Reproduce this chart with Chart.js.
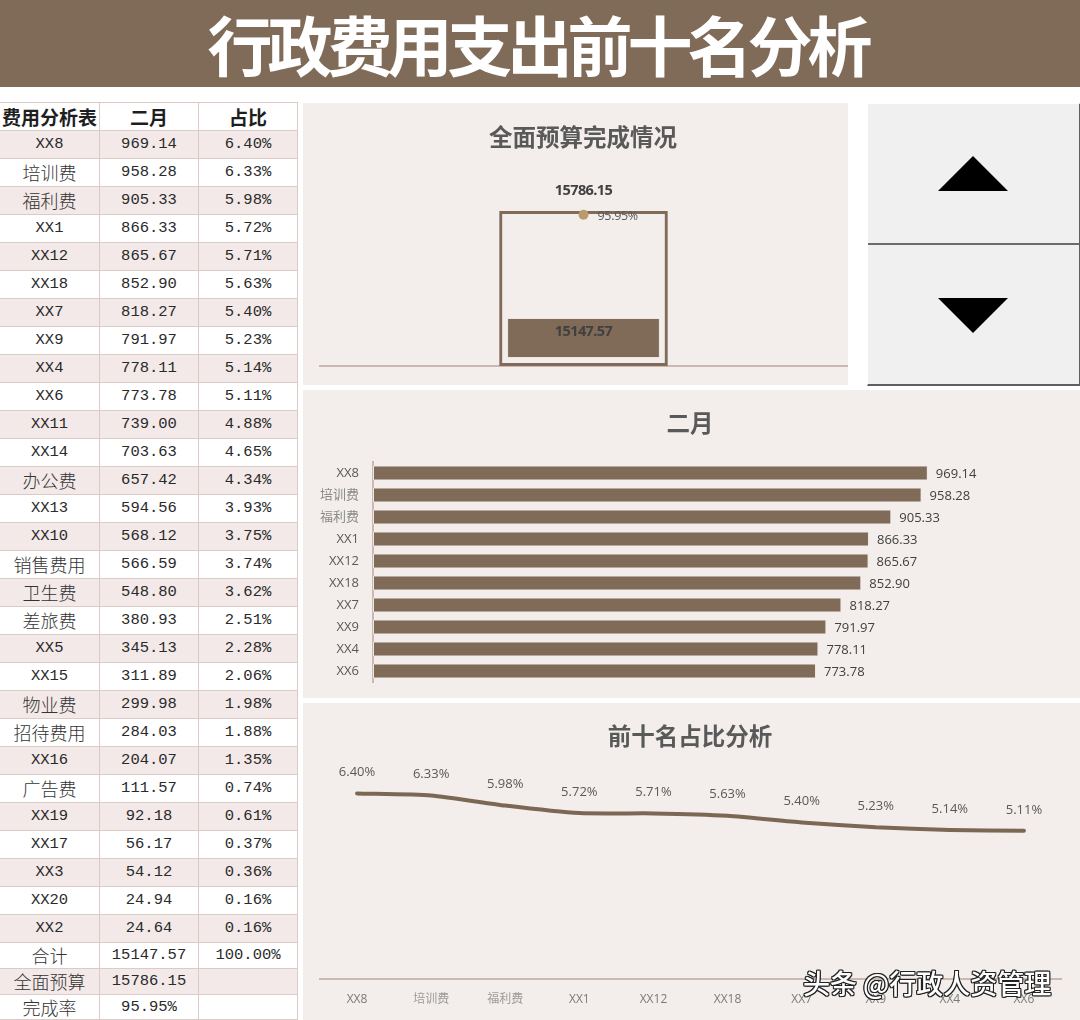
<!DOCTYPE html>
<html><head><meta charset="utf-8">
<script src="https://cdn.jsdelivr.net/npm/chart.js@4.4.0/dist/chart.umd.min.js"></script>
<style>
html,body{margin:0;padding:0;background:#fff;width:1080px;height:1020px;overflow:hidden;position:relative;font-family:"Noto Sans CJK SC",sans-serif;}
#titlebar{position:absolute;left:0;top:0;width:1080px;height:87px;background:#806b59;color:#fff;font-size:65px;font-weight:700;text-align:center;line-height:86px;letter-spacing:-5px;text-indent:-5px;}
.panel{position:absolute;background:#f3eeec;}
.ptitle{position:absolute;font-size:23.5px;font-weight:700;color:#595959;transform:translate(-50%,-50%);white-space:nowrap;line-height:1;}
canvas{position:absolute;left:0;top:0;}
.cell{position:absolute;box-sizing:border-box;border-right:1px solid #dccac7;border-bottom:1px solid #dccac7;text-align:center;color:#2a2a2a;white-space:nowrap;overflow:hidden;}
.cjk{font-family:"Noto Sans CJK SC",sans-serif;font-size:18px;font-weight:300;color:#333;}
.num{font-family:"Liberation Mono",monospace;font-size:15.5px;}
.hdr{font-weight:700;font-size:19px;color:#1e1e1e;}
#btns{position:absolute;left:867px;top:103px;width:211px;height:280px;background:#f0f0f0;border-right:2px solid #5f5f5f;border-bottom:2px solid #5f5f5f;border-top:1px solid #fff;border-left:1px solid #fff;box-sizing:content-box;}
#divider{position:absolute;left:0;top:139px;width:211px;height:2px;background:#6b6b6b;}
.tri{position:absolute;width:0;height:0;border-left:35px solid transparent;border-right:35px solid transparent;}
#wm{position:absolute;left:803px;top:963px;font-size:27px;color:#fff;white-space:nowrap;font-family:"Noto Sans CJK SC",sans-serif;font-weight:500;
 text-shadow:1px 1px 0 #222,-1px -1px 0 #222,1px -1px 0 #222,-1px 1px 0 #222,0 1px 0 #222,0 -1px 0 #222,1px 0 0 #222,-1px 0 0 #222;}
</style></head>
<body>
<div id="titlebar">行政费用支出前十名分析</div>
<div id="table"></div>

<div class="panel" style="left:303px;top:103px;width:545px;height:282px;">
  <canvas id="c1" width="545" height="282"></canvas>
  <div class="ptitle" style="left:280px;top:34px;">全面预算完成情况</div>
</div>

<div id="btns">
  <div class="tri" style="left:70px;top:52px;border-bottom:35px solid #000;"></div>
  <div id="divider"></div>
  <div class="tri" style="left:70px;top:194px;border-top:35px solid #000;"></div>
</div>

<div class="panel" style="left:303px;top:390px;width:777px;height:308px;">
  <canvas id="c2" width="777" height="308"></canvas>
  <div class="ptitle" style="left:387px;top:33px;">二月</div>
</div>

<div class="panel" style="left:303px;top:703px;width:777px;height:317px;">
  <canvas id="c3" width="777" height="317"></canvas>
  <div class="ptitle" style="left:387px;top:33px;">前十名占比分析</div>
</div>

<div id="wm">头条 @行政人资管理</div>

<script>
// ---------- data ----------
const tableHeaders = ['费用分析表', '二月', '占比'];
const itemNames = ['XX8','培训费','福利费','XX1','XX12','XX18','XX7','XX9','XX4','XX6',
  'XX11','XX14','办公费','XX13','XX10','销售费用','卫生费','差旅费','XX5','XX15',
  '物业费','招待费用','XX16','广告费','XX19','XX17','XX3','XX20','XX2'];
const febValues = [969.14,958.28,905.33,866.33,865.67,852.90,818.27,791.97,778.11,773.78,
  739.00,703.63,657.42,594.56,568.12,566.59,548.80,380.93,345.13,311.89,
  299.98,284.03,204.07,111.57,92.18,56.17,54.12,24.94,24.64];
const sharePct = [6.40,6.33,5.98,5.72,5.71,5.63,5.40,5.23,5.14,5.11,
  4.88,4.65,4.34,3.93,3.75,3.74,3.62,2.51,2.28,2.06,
  1.98,1.88,1.35,0.74,0.61,0.37,0.36,0.16,0.16];
const totalLabel = '合计';
const totalActual = 15147.57;
const totalShare = 100.00;
const budgetLabel = '全面预算';
const totalBudget = 15786.15;
const rateLabel = '完成率';
const completionRate = 95.95;
const topN = 10;
const topNames = itemNames.slice(0, topN);
const topValues = febValues.slice(0, topN);
const topShares = sharePct.slice(0, topN);

// ---------- table ----------
const BROWN = '#806b59';
const hasCJK = s => /[\u3400-\u9fff]/.test(s);
(function buildTable(){
  const t = document.getElementById('table');
  const colX = [0, 100, 199], colW = [100, 99, 99];
  const rows = [];
  rows.push({cells: tableHeaders, hdr: true});
  itemNames.forEach((n,i)=>rows.push({cells:[n, febValues[i].toFixed(2), sharePct[i].toFixed(2)+'%']}));
  rows.push({cells:[totalLabel, totalActual.toFixed(2), totalShare.toFixed(2)+'%']});
  rows.push({cells:[budgetLabel, totalBudget.toFixed(2), '']});
  rows.push({cells:[rateLabel, completionRate.toFixed(2)+'%', '']});
  const heights = rows.map((r,i)=> i < 30 ? 28 : (i===32 ? 25 : 26));
  let y = 103;
  const tb = document.createElement('div');
  tb.style.cssText = 'position:absolute;left:0;top:102px;width:298px;height:1px;background:#dccac7;';
  t.appendChild(tb);
  rows.forEach((r,ri)=>{
    const h = heights[ri];
    const shaded = ri % 2 === 1;
    r.cells.forEach((txt,ci)=>{
      const d = document.createElement('div');
      d.className = 'cell ' + (hasCJK(txt) ? 'cjk' : 'num') + (r.hdr ? ' hdr' : '');
      d.style.left = colX[ci]+'px'; d.style.top = y+'px';
      d.style.width = colW[ci]+'px'; d.style.height = h+'px';
      d.style.lineHeight = (h-1)+'px';
      d.style.background = shaded ? '#f3e9e8' : '#ffffff';
      d.textContent = txt;
      t.appendChild(d);
    });
    y += h;
  });
})();

const FONT = "'Open Sans','Noto Sans CJK SC',sans-serif";

// ---------- chart 1: budget ----------
const budgetLabels = {
  id: 'budgetLabels',
  afterDatasetsDraw(chart){
    const ctx = chart.ctx;
    ctx.save();
    const pt = chart.getDatasetMeta(0).data[0];
    const act = chart.getDatasetMeta(1).data[0];
    const bud = chart.getDatasetMeta(2).data[0];
    ctx.fillStyle = '#404040';
    ctx.font = 'bold 14.5px ' + FONT;
    try { ctx.letterSpacing = '-0.6px'; } catch(e) {}
    ctx.textAlign = 'center'; ctx.textBaseline = 'middle';
    ctx.fillText(totalBudget.toFixed(2), bud.x, bud.y - 20);
    ctx.fillText(totalActual.toFixed(2), act.x, act.y + 14);
    try { ctx.letterSpacing = '-0.3px'; } catch(e) {}
    ctx.font = '12.5px ' + FONT;
    ctx.fillStyle = '#595959';
    ctx.textAlign = 'left';
    ctx.fillText(completionRate.toFixed(2)+'%', pt.x + 14, pt.y + 2);
    ctx.restore();
  }
};
new Chart(document.getElementById('c1'), {
  type: 'bar',
  data: {
    labels: [budgetLabel],
    datasets: [
      {type:'line', data:[completionRate/100], yAxisID:'y3', showLine:false, pointRadius:5, pointHoverRadius:5,
       pointBackgroundColor:'#b99b6b', pointBorderWidth:0, order:0},
      {data:[totalActual], yAxisID:'y2', backgroundColor:BROWN, borderColor:'#efe5e1', borderWidth:1,
       borderSkipped:false, barPercentage:0.29, categoryPercentage:1, grouped:false, order:1},
      {data:[totalBudget], yAxisID:'y', backgroundColor:'rgba(0,0,0,0)', borderColor:BROWN, borderWidth:3,
       borderSkipped:false, barPercentage:0.32, categoryPercentage:1, grouped:false, order:2}
    ]
  },
  options: {
    responsive:false, animation:false, events:[],
    layout:{autoPadding:false, padding:{left:17,right:1,top:96,bottom:19}},
    plugins:{legend:{display:false}, tooltip:{enabled:false}},
    scales:{
      x:{display:true, grid:{display:false, drawTicks:false}, ticks:{display:false},
         border:{display:true, color:'#c9b9b1', width:2}, afterFit:s=>{s.height=0;}},
      y:{display:false, min:0, max:17000},
      y2:{display:false, min:-3000, max:60000},
      y3:{display:false, min:0, max:1.06}
    }
  },
  plugins:[budgetLabels]
});

// ---------- chart 2: horizontal bars ----------
const barValueLabels = {
  id:'barValueLabels',
  afterDatasetsDraw(chart){
    const ctx = chart.ctx; ctx.save();
    ctx.font = '13px ' + FONT; ctx.fillStyle = '#404040';
    ctx.textAlign = 'left'; ctx.textBaseline = 'middle';
    chart.getDatasetMeta(0).data.forEach((b,i)=>{
      ctx.fillText(topValues[i].toFixed(2), b.x + 8, b.y + 1);
    });
    ctx.restore();
  }
};
new Chart(document.getElementById('c2'), {
  type:'bar',
  data:{labels:topNames, datasets:[{data:topValues, backgroundColor:BROWN, borderColor:'#efe5e1', borderWidth:1,
    borderSkipped:false, barPercentage:0.68, categoryPercentage:1}]},
  options:{
    indexAxis:'y', responsive:false, animation:false, events:[],
    layout:{autoPadding:false, padding:{left:10,right:20,top:72,bottom:16}},
    plugins:{legend:{display:false}, tooltip:{enabled:false}},
    scales:{
      x:{display:false, min:0, max:1200},
      y:{grid:{display:false, drawTicks:false}, border:{display:true, color:'#c9b9b1', width:2},
         ticks:{padding:14, font:{family:FONT, size:13},
           color: c => hasCJK(topNames[c.index] || '') ? '#8a8a8a' : '#595959'},
         afterFit:s=>{s.width=60; s.paddingTop=0; s.paddingBottom=0;}}
    }
  },
  plugins:[barValueLabels]
});

// ---------- chart 3: share line ----------
const lineLabels = {
  id:'lineLabels',
  afterDatasetsDraw(chart){
    const ctx = chart.ctx; ctx.save();
    ctx.font = '13px ' + FONT; ctx.fillStyle = '#595959';
    ctx.textAlign = 'center'; ctx.textBaseline = 'middle';
    chart.getDatasetMeta(0).data.forEach((p,i)=>{
      ctx.fillText(topShares[i].toFixed(2)+'%', p.x, p.y - 21);
    });
    ctx.restore();
  }
};
new Chart(document.getElementById('c3'), {
  type:'line',
  data:{labels:topNames, datasets:[{data:topShares, borderColor:'#7b6753', borderWidth:4, pointRadius:0,
    tension:0.2, fill:false, borderCapStyle:'round', borderJoinStyle:'round'}]},
  options:{
    responsive:false, animation:false, events:[],
    layout:{autoPadding:false, padding:{left:17,right:19,top:73,bottom:11}},
    plugins:{legend:{display:false}, tooltip:{enabled:false}},
    scales:{
      x:{offset:true, grid:{display:false, drawTicks:false}, border:{display:true, color:'#c9b9b1', width:2},
         ticks:{padding:13, font:{family:FONT, size:12}, maxRotation:0, autoSkip:false,
           color: c => hasCJK(topNames[c.index] || '') ? '#9a9a9a' : '#7a7a7a'},
         afterFit:s=>{s.height=30; s.paddingLeft=0; s.paddingRight=0;}},
      y:{display:false, min:0, max:7}
    }
  },
  plugins:[lineLabels]
});
</script>
</body></html>
